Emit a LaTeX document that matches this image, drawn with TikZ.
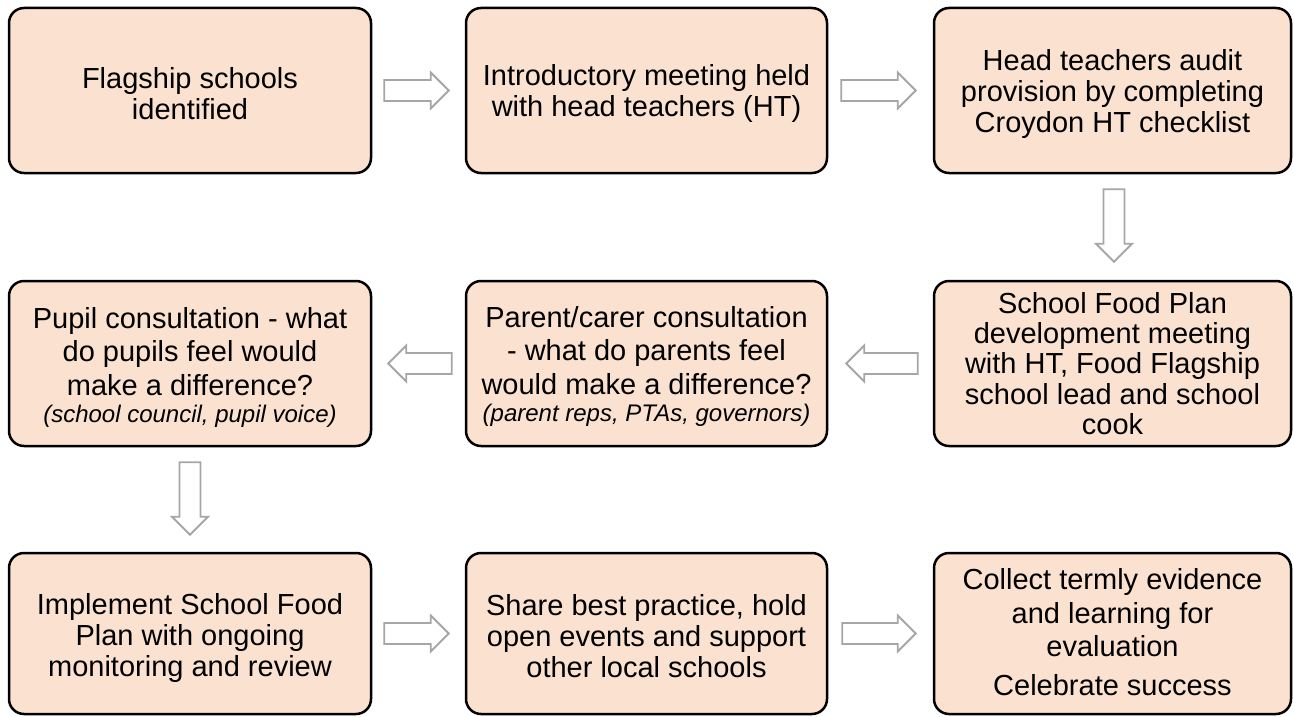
\documentclass[tikz,border=0pt]{standalone}
\usepackage{fontspec}
\setmainfont{Liberation Sans}
\usetikzlibrary{calc}

\definecolor{boxfill}{HTML}{FBE2D0}
\definecolor{arrowgrey}{HTML}{A6A6A6}

\tikzset{
  stepbox/.style={draw=black, line width=2.5pt, fill=boxfill,
    rounded corners=15pt, inner sep=0pt},
  boxtext/.style={align=center, inner sep=0pt,
    font=\fontsize{29}{31}\selectfont},
  col1/.style={minimum width=362pt},
  col2/.style={minimum width=361pt},
  col3/.style={minimum width=357pt},
  tallrow/.style={minimum height=165pt},
  lowrow/.style={minimum height=161pt},
  loose/.style={font=\fontsize{29}{33.3}\selectfont},
  fatline/.style={draw=arrowgrey, fill=white, line width=1.8pt, line join=miter},
}

% hollow block arrow from coordinate #1 (tail) to coordinate #2 (tip)
\newcommand\blockarrow[2]{%
  \coordinate (#1h) at ($(#2)!18pt!(#1)$);
  \draw[fatline]
    ($(#1)!10.5pt!90:(#2)$) -- ($(#1h)!10.5pt!90:(#2)$) --
    ($(#1h)!18pt!90:(#2)$) -- (#2) --
    ($(#1h)!18pt!-90:(#2)$) -- ($(#1h)!10.5pt!-90:(#2)$) --
    ($(#1)!10.5pt!-90:(#2)$) -- cycle;}

\newcommand\note[1]{{\fontsize{24}{26}\selectfont\itshape #1}}

\begin{document}
\begin{tikzpicture}[x=1pt, y=-1pt]
  \useasboundingbox (0,0) rectangle (1294,717);

  % boxes
  \node[stepbox, col1, tallrow] (b11) at (190,90.5) {};
  \node[stepbox, col2, tallrow] (b12) at (646.5,90.5) {};
  \node[stepbox, col3, tallrow] (b13) at (1112.5,90.5) {};
  \node[stepbox, col1, tallrow] (b21) at (190,363.5) {};
  \node[stepbox, col2, tallrow] (b22) at (646.5,363.5) {};
  \node[stepbox, col3, tallrow] (b23) at (1112.5,363.5) {};
  \node[stepbox, col1, lowrow] (b31) at (190,633.5) {};
  \node[stepbox, col2, lowrow] (b32) at (646.5,633.5) {};
  \node[stepbox, col3, lowrow] (b33) at (1112.5,633.5) {};

  % box texts
  \node[boxtext] (t11) at ($(b11)+(0,3)$)
    {Flagship schools\\identified};
  \node[boxtext] (t12) at ($(b12)+(0,3)$)
    {Introductory meeting held\\with head teachers (HT)};
  \node[boxtext] (t13) at ($(b13)+(0,4)$)
    {Head teachers audit\\provision by completing\\Croydon HT checklist};
  \node[boxtext, loose] (t21) at ($(b21)+(0,4)$)
    {Pupil consultation - what\\do pupils feel would\\make a difference?\\[-6pt]\note{(school council, pupil voice)}};
  \node[boxtext, loose] (t22) at ($(b22)+(0,3)$)
    {Parent/carer consultation\\- what do parents feel\\would make a difference?\\[-6pt]\note{(parent reps, PTAs, governors)}};
  \node[boxtext, font=\fontsize{29}{30.3}\selectfont] (t23) at ($(b23)+(0,0)$)
    {School Food Plan\\development meeting\\with HT, Food Flagship\\school lead and school\\cook};
  \node[boxtext] (t31) at ($(b31)+(0,4)$)
    {Implement School Food\\Plan with ongoing\\monitoring and review};
  \node[boxtext] (t32) at ($(b32)+(0,3)$)
    {Share best practice, hold\\open events and support\\other local schools};
  \node[boxtext, loose] (t33) at ($(b33)+(0,-1)$)
    {Collect termly evidence\\and learning for\\evaluation\\[6pt]Celebrate success};

  % arrow ends
  \coordinate (a1s) at ($(b11.east)+(12,0)$);
  \coordinate (a1e) at ($(b12.west)+(-16,0)$);
  \coordinate (a2s) at ($(b12.east)+(13,0)$);
  \coordinate (a2e) at ($(b13.west)+(-17,0)$);
  \coordinate (a3s) at ($(b13.south)+(1.5,15)$);
  \coordinate (a3e) at ($(b23.north)+(1.5,-18)$);
  \coordinate (a4s) at ($(b23.west)+(-15,0)$);
  \coordinate (a4e) at ($(b22.east)+(18,0)$);
  \coordinate (a5s) at ($(b22.west)+(-13,0)$);
  \coordinate (a5e) at ($(b21.east)+(16,0)$);
  \coordinate (a6s) at ($(b21.south)+(0,15)$);
  \coordinate (a6e) at ($(b31.north)+(0,-17)$);
  \coordinate (a7s) at ($(b31.east)+(12,0)$);
  \coordinate (a7e) at ($(b32.west)+(-16,0)$);
  \coordinate (a8s) at ($(b32.east)+(14,0)$);
  \coordinate (a8e) at ($(b33.west)+(-17,0)$);

  \blockarrow{a1s}{a1e}
  \blockarrow{a2s}{a2e}
  \blockarrow{a3s}{a3e}
  \blockarrow{a4s}{a4e}
  \blockarrow{a5s}{a5e}
  \blockarrow{a6s}{a6e}
  \blockarrow{a7s}{a7e}
  \blockarrow{a8s}{a8e}
\end{tikzpicture}
\end{document}
